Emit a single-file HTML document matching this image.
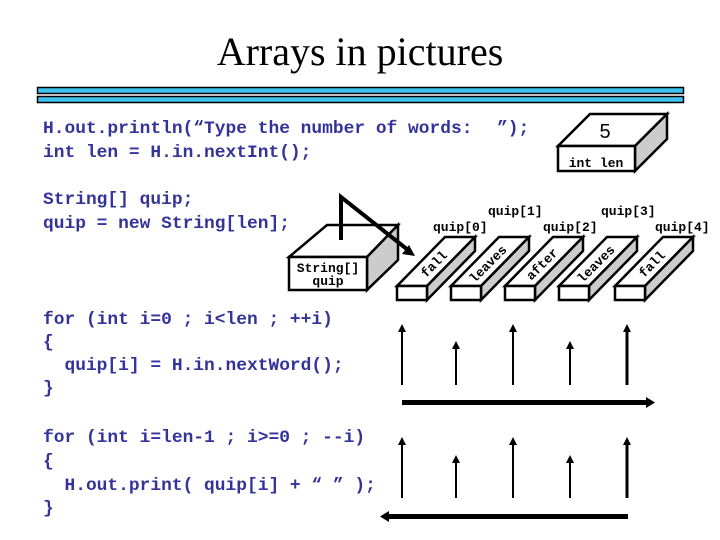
<!DOCTYPE html>
<html><head><meta charset="utf-8"><style>
html,body{margin:0;padding:0;background:#fff;}
svg{display:block;}
.c{font-family:"Liberation Mono",monospace;font-weight:bold;font-size:17.9px;fill:#333399;}
.m{font-family:"Liberation Mono",monospace;font-weight:bold;font-size:13px;fill:#000;}
</style></head><body>
<svg width="720" height="540" viewBox="0 0 720 540" xmlns="http://www.w3.org/2000/svg">
<text x="360" y="65" text-anchor="middle" font-family="Liberation Serif,serif" font-size="40">Arrays in pictures</text>
<rect x="37.5" y="87.5" width="646" height="6" fill="#3ec3f0" stroke="#000" stroke-width="1.5"/>
<rect x="37.5" y="96.5" width="646" height="6" fill="#3ec3f0" stroke="#000" stroke-width="1.5"/>

<g class="c">
<text x="43" y="133">H.out.println(“Type the number of words:</text>
<text x="497" y="133">”);</text>
<text x="43" y="157">int len = H.in.nextInt();</text>
<text x="43" y="204">String[] quip;</text>
<text x="43" y="228">quip = new String[len];</text>
<text x="43" y="324" xml:space="preserve">for (int i=0 ; i&lt;len ; ++i)</text>
<text x="43" y="347">{</text>
<text x="43" y="370" xml:space="preserve">  quip[i] = H.in.nextWord();</text>
<text x="43" y="393">}</text>
<text x="43" y="442" xml:space="preserve">for (int i=len-1 ; i&gt;=0 ; --i)</text>
<text x="43" y="466">{</text>
<text x="43" y="490" xml:space="preserve">  H.out.print( quip[i] + “ ” );</text>
<text x="43" y="513">}</text>
</g>

<g stroke="#000" stroke-width="2.5">
<polygon points="558,146 590,114 667,114 635,146" fill="#fff"/>
<polygon points="635,146 667,114 667,139 635,171" fill="#ccc"/>
<rect x="558" y="146" width="77" height="25" fill="#fff"/>
</g>
<text x="605" y="138" text-anchor="middle" font-family="Liberation Sans,sans-serif" font-size="20">5</text>
<text x="596" y="167" text-anchor="middle" class="m">int len</text>

<g stroke="#000" stroke-width="2.5">
<polygon points="289,257 327,225 398,225 367,257" fill="#fff"/>
<polygon points="367,257 398,225 398,260 367,290" fill="#ccc"/>
<rect x="289" y="257" width="78" height="33" fill="#fff"/>
</g>
<text x="328" y="272" text-anchor="middle" class="m" font-size="13.5">String[]</text>
<text x="328" y="285" text-anchor="middle" class="m" font-size="13.5">quip</text>
<polyline points="341,240 341,197 408,250" fill="none" stroke="#000" stroke-width="4"/>
<polygon points="415,256 402,254 409,245" fill="#000"/>

<g stroke="#000" stroke-width="2.5">
<g>
<polygon points="397,286 445,237 475,237 427,286" fill="#fff"/>
<polygon points="427,286 475,237 475,251 427,300" fill="#ccc"/>
<rect x="397" y="286" width="30" height="14" fill="#fff"/>
</g>
<g transform="translate(54,0)">
<polygon points="397,286 445,237 475,237 427,286" fill="#fff"/>
<polygon points="427,286 475,237 475,251 427,300" fill="#ccc"/>
<rect x="397" y="286" width="30" height="14" fill="#fff"/>
</g>
<g transform="translate(108,0)">
<polygon points="397,286 445,237 475,237 427,286" fill="#fff"/>
<polygon points="427,286 475,237 475,251 427,300" fill="#ccc"/>
<rect x="397" y="286" width="30" height="14" fill="#fff"/>
</g>
<g transform="translate(162,0)">
<polygon points="397,286 445,237 475,237 427,286" fill="#fff"/>
<polygon points="427,286 475,237 475,251 427,300" fill="#ccc"/>
<rect x="397" y="286" width="30" height="14" fill="#fff"/>
</g>
<g transform="translate(218,0)">
<polygon points="397,286 445,237 475,237 427,286" fill="#fff"/>
<polygon points="427,286 475,237 475,251 427,300" fill="#ccc"/>
<rect x="397" y="286" width="30" height="14" fill="#fff"/>
</g>
</g>
<g class="m" font-size="15" text-anchor="middle">
<text transform="translate(437,267) rotate(-45)">fall</text>
<text transform="translate(491,267) rotate(-45)">leaves</text>
<text transform="translate(545,267) rotate(-45)">after</text>
<text transform="translate(599,267) rotate(-45)">leaves</text>
<text transform="translate(655,267) rotate(-45)">fall</text>
</g>
<g class="m">
<text x="433" y="231">quip[0]</text>
<text x="488" y="215">quip[1]</text>
<text x="543" y="231">quip[2]</text>
<text x="601" y="215">quip[3]</text>
<text x="655" y="231">quip[4]</text>
</g>

<g stroke="#000" stroke-width="2">
<line x1="402" y1="385" x2="402" y2="330"/>
<line x1="456" y1="385" x2="456" y2="347"/>
<line x1="513" y1="385" x2="513" y2="330"/>
<line x1="570" y1="385" x2="570" y2="347"/>
<line x1="627" y1="385" x2="627" y2="330" stroke-width="3"/>
<line x1="402" y1="498" x2="402" y2="443"/>
<line x1="456" y1="498" x2="456" y2="461"/>
<line x1="513" y1="498" x2="513" y2="443"/>
<line x1="570" y1="498" x2="570" y2="461"/>
<line x1="627" y1="498" x2="627" y2="443" stroke-width="3"/>
</g>
<g fill="#000">
<polygon points="402,324 398,332 406,332"/>
<polygon points="456,341 452,349 460,349"/>
<polygon points="513,324 509,332 517,332"/>
<polygon points="570,341 566,349 574,349"/>
<polygon points="627,324 623,332 631,332"/>
<polygon points="402,437 398,445 406,445"/>
<polygon points="456,455 452,463 460,463"/>
<polygon points="513,437 509,445 517,445"/>
<polygon points="570,455 566,463 574,463"/>
<polygon points="627,437 623,445 631,445"/>
<rect x="402" y="400" width="246" height="5"/>
<polygon points="655,402.5 646,397 646,408"/>
<rect x="387" y="514" width="241" height="5"/>
<polygon points="380,516.5 389,511 389,522"/>
</g>
</svg>
</body></html>
